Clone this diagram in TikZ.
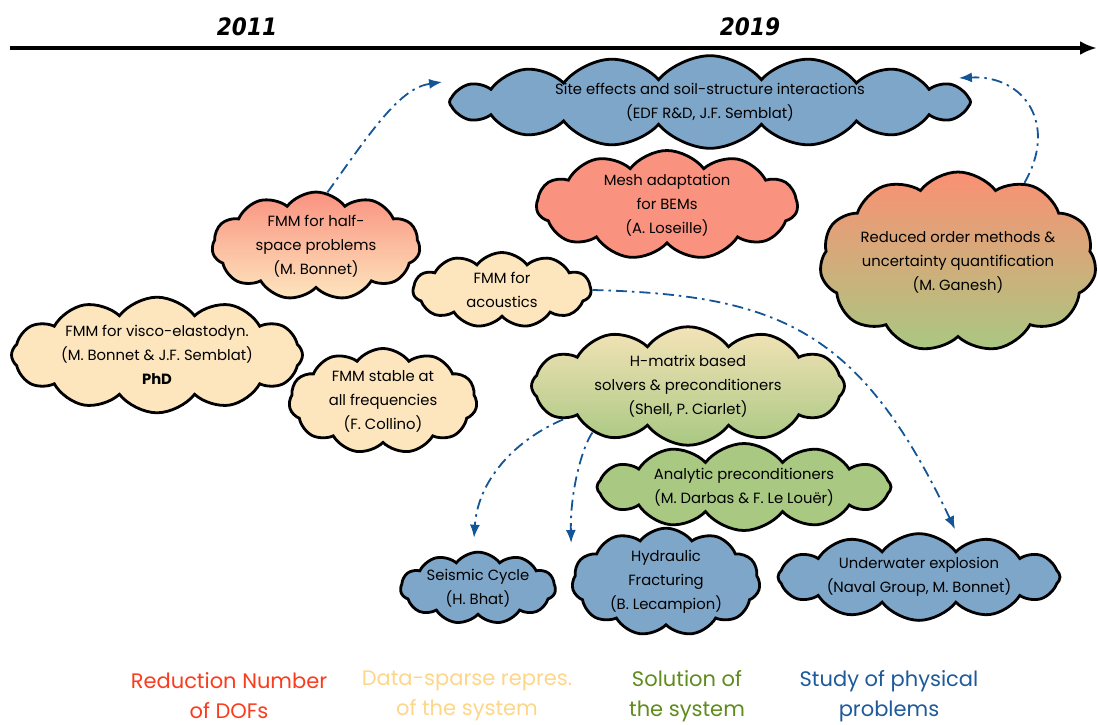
\documentclass[tikz,border=0pt]{standalone}
\usepackage{fontspec}
\setmainfont{Poppins}
\newfontfamily\evfont{DejaVu Sans Condensed}
\usetikzlibrary{arrows.meta,shapes.symbols,calc}
\definecolor{fizkek}{RGB}{126,166,201}
\definecolor{lazac}{RGB}{250,146,128}
\definecolor{krem}{RGB}{253,230,190}
\definecolor{zold}{RGB}{169,200,130}
\definecolor{nyilkek}{RGB}{20,85,150}
\definecolor{jpiros}{RGB}{250,60,30}
\definecolor{jkrem}{RGB}{253,214,138}
\definecolor{jzold}{RGB}{95,140,30}
\definecolor{jkek}{RGB}{30,90,155}
\tikzset{
  felho/.style={cloud,cloud puffs=11,cloud puff arc=105,cloud ignores aspect,draw,line width=2.8pt,
                inner sep=0pt,align=center,font=\fontsize{14.8}{24}\selectfont},
  fiz/.style={felho,fill=fizkek},
  csokk/.style={felho,fill=lazac},
  ritka/.style={felho,fill=krem},
  megold/.style={felho,fill=zold},
  kapcs/.style={draw=nyilkek,line width=1.8pt,dash pattern=on 11pt off 5pt on 2.5pt off 5pt,
                -{Latex[length=13pt,width=10pt]}},
  ev/.style={font=\evfont\bfseries\itshape\fontsize{24}{24}\selectfont},
  jel/.style={align=center,font=\fontsize{21}{30}\selectfont},
}
\begin{document}
\begin{tikzpicture}[x=1pt,y=-1pt]
\useasboundingbox (0,0) rectangle (1098,725);
% idovonal
\coordinate (t0) at (10,48);
\coordinate (t1) at (1097,48);
\draw[line width=4pt,-{Latex[length=17pt,width=14pt]}] (t0) -- (t1);
\node[ev] (y2011) at (247,27) {2011};
\node[ev] (y2019) at (750,27) {2019};

% felhok
\node[fiz,cloud puffs=16,cloud puff arc=100,minimum width=521pt,minimum height=80pt] (site) at (710,102)
  {Site effects and soil-structure interactions\\(EDF R\&D, J.F. Semblat)};
\node[csokk,minimum width=261pt,minimum height=85pt] (mesh) at (667,205)
  {Mesh adaptation\\for BEMs\\(A. Loseille)};
\node[felho,top color=lazac!90!orange,bottom color=zold,minimum width=268pt,minimum height=180pt] (rom) at (958,262)
  {Reduced order methods \&\\uncertainty quantification\\(M. Ganesh)};
\node[felho,top color=lazac,bottom color=krem,minimum width=208pt,minimum height=97pt] (half) at (316,246)
  {FMM for half-\\space problems\\(M. Bonnet)};
\node[ritka,minimum width=178pt,minimum height=75pt] (acou) at (502,290) {FMM for\\acoustics};
\node[ritka,cloud puffs=12,minimum width=291pt,minimum height=104pt] (visco) at (157,355)
  {FMM for visco-elastodyn.\\(M. Bonnet \& J.F. Semblat)\\\textbf{PhD}};
\node[ritka,minimum width=188pt,minimum height=88pt] (stab) at (383,401)
  {FMM stable at\\all frequencies\\(F. Collino)};
\node[felho,cloud puffs=12,top color=krem!90!zold,bottom color=zold,minimum width=313pt,minimum height=87pt] (hmat) at (688,386)
  {H-matrix based\\solvers \& preconditioners\\(Shell, P. Ciarlet)};
\node[megold,cloud puffs=12,minimum width=294pt,minimum height=87pt] (anal) at (744,487)
  {Analytic preconditioners\\(M. Darbas \& F. Le Louër)};
\node[fiz,minimum width=155pt,minimum height=67pt] (seis) at (478,588) {Seismic Cycle\\(H. Bhat)};
\node[fiz,minimum width=188pt,minimum height=97pt] (hyd) at (666,582) {Hydraulic\\Fracturing\\(B. Lecampion)};
\node[fiz,cloud puffs=12,minimum width=282pt,minimum height=83pt] (uw) at (919,577)
  {Underwater explosion\\(Naval Group, M. Bonnet)};

% kapcsolatok
\draw[kapcs] (half.78) .. controls (372,130) and (400,88) .. ($(site.west)+(-6,-20)$);
\draw[kapcs] (rom.50) .. controls (1058,125) and (1025,75) .. ($(site.east)+(-13,-24)$);
\draw[kapcs] (acou.east) .. controls (780,295) and (860,330) .. ($(uw.north)+(36,-3)$);
\draw[kapcs] (hmat.195) .. controls (515,440) and (478,480) .. ($(seis.north)+(-4,-13)$);
\draw[kapcs] (hmat.206) .. controls (583,445) and (570,490) .. ($(hyd.west)+(0,-39)$);

% jelmagyarazat
\node[jel,text=jpiros] (l1) at (229,696) {Reduction Number\\of DOFs};
\node[jel,text=jkrem] (l2) at (467,696) {Data-sparse repres.\\of the system};
\node[jel,text=jzold] (l3) at (687,696) {Solution of\\the system};
\node[jel,text=jkek] (l4) at (889,696) {Study of physical\\problems};
\end{tikzpicture}
\end{document}
